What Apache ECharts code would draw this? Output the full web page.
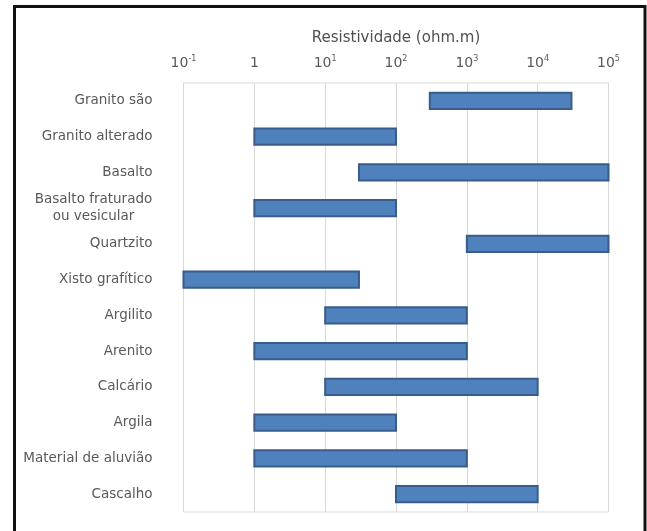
<!DOCTYPE html>
<html>
<head>
<meta charset="utf-8">
<style>
  html, body { margin: 0; padding: 0; background: #fff; }
  #chart { width: 647px; height: 531px; }
</style>
<script src="https://cdn.jsdelivr.net/npm/echarts@6/dist/echarts.min.js"></script>
</head>
<body>
<div id="chart"></div>
<script>
// Rock types, top to bottom
const rocks = [
  'Granito são',
  'Granito alterado',
  'Basalto',
  'Basalto fraturado\nou vesicular',
  'Quartzito',
  'Xisto grafítico',
  'Argilito',
  'Arenito',
  'Calcário',
  'Argila',
  'Material de aluvião',
  'Cascalho'
];
// Resistivity range of each rock (ohm.m)
const lowOhm  = [300, 1, 30, 1, 1000, 0.1, 10, 1, 10, 1, 1, 100];
const highOhm = [30000, 100, 100000, 100, 100000, 30, 1000, 1000, 10000, 100, 1000, 10000];
// Decade tick labels: exponent shown for each log10 of the tick value (null = plain "1")
const tickExp = { '-1': '-1', '0': null, '1': '1', '2': '2', '3': '3', '4': '4', '5': '5' };

const FONT = 'DejaVu Sans';
const LABEL_SIZE = 13.5;
const LABEL_COLOR = '#595959';

// width of the widest line in a wrapped label, so its lines can be centred on each other
const measureCtx = document.createElement('canvas').getContext('2d');
measureCtx.font = LABEL_SIZE + 'px "' + FONT + '"';
function lineWidth(s) { return Math.ceil(measureCtx.measureText(s).width); }

const chart = echarts.init(document.getElementById('chart'));

const rangeData = rocks.map((r, i) => [i, lowOhm[i], highOhm[i]]);

chart.setOption({
  animation: false,
  backgroundColor: '#fff',
  textStyle: { fontFamily: FONT },
  grid: {
    left: 183.5, right: 38.5, top: 83, height: 429,
    show: true, borderColor: '#d9d9d9', borderWidth: 1, backgroundColor: 'transparent'
  },
  xAxis: {
    type: 'log',
    logBase: 10,
    min: 0.1,
    max: 100000,
    position: 'top',
    name: 'Resistividade (ohm.m)',
    nameLocation: 'middle',
    nameGap: 37,
    nameTextStyle: { fontFamily: FONT, fontSize: 15, color: '#505050' },
    axisLine: { show: false },
    axisTick: { show: false },
    splitLine: { show: true, lineStyle: { color: '#d9d9d9', width: 1 } },
    axisLabel: {
      margin: 12,
      formatter: function (v) {
        const e = String(Math.round(Math.log10(v)));
        if (tickExp[e] === null) return '{b|1}';
        return '{b|10}{s|' + tickExp[e] + '}';
      },
      rich: {
        b: { fontFamily: FONT, fontSize: 14, color: LABEL_COLOR, lineHeight: 16 },
        s: { fontFamily: FONT, fontSize: 8, color: LABEL_COLOR, lineHeight: 9, verticalAlign: 'top' }
      }
    }
  },
  yAxis: {
    type: 'category',
    data: rocks,
    inverse: true,
    axisLine: { show: false },
    axisTick: { show: false },
    splitLine: { show: false },
    axisLabel: {
      margin: 31,
      fontFamily: FONT,
      fontSize: LABEL_SIZE,
      color: LABEL_COLOR,
      formatter: function (name) {
        if (name.indexOf('\n') < 0) return name;
        const lines = name.split('\n');
        const w = Math.max.apply(null, lines.map(lineWidth));
        return lines.map(l => '{c' + w + '|' + l + '}').join('\n');
      },
      rich: (function () {
        const rich = {};
        rocks.filter(n => n.indexOf('\n') >= 0).forEach(n => {
          const w = Math.max.apply(null, n.split('\n').map(lineWidth));
          rich['c' + w] = { width: w, align: 'center', fontFamily: FONT, fontSize: LABEL_SIZE, color: LABEL_COLOR, lineHeight: 16.5 };
        });
        return rich;
      })()
    }
  },
  graphic: [{
    type: 'rect',
    z: 100,
    shape: { x: 14.5, y: 6.5, width: 630.5, height: 560 },
    style: { fill: 'none', stroke: '#111', lineWidth: 3 }
  }],
  series: [{
    type: 'custom',
    encode: { x: [1, 2], y: 0 },
    data: rangeData,
    renderItem: function (params, api) {
      const cat = api.value(0);
      const p0 = api.coord([api.value(1), cat]);
      const p1 = api.coord([api.value(2), cat]);
      const h = api.size([1, 1])[1] * 0.45;
      return {
        type: 'rect',
        shape: { x: p0[0], y: p0[1] - h / 2, width: p1[0] - p0[0], height: h },
        style: { fill: '#4f81bd', stroke: '#385d8a', lineWidth: 2 }
      };
    }
  }]
});
</script>
</body>
</html>
